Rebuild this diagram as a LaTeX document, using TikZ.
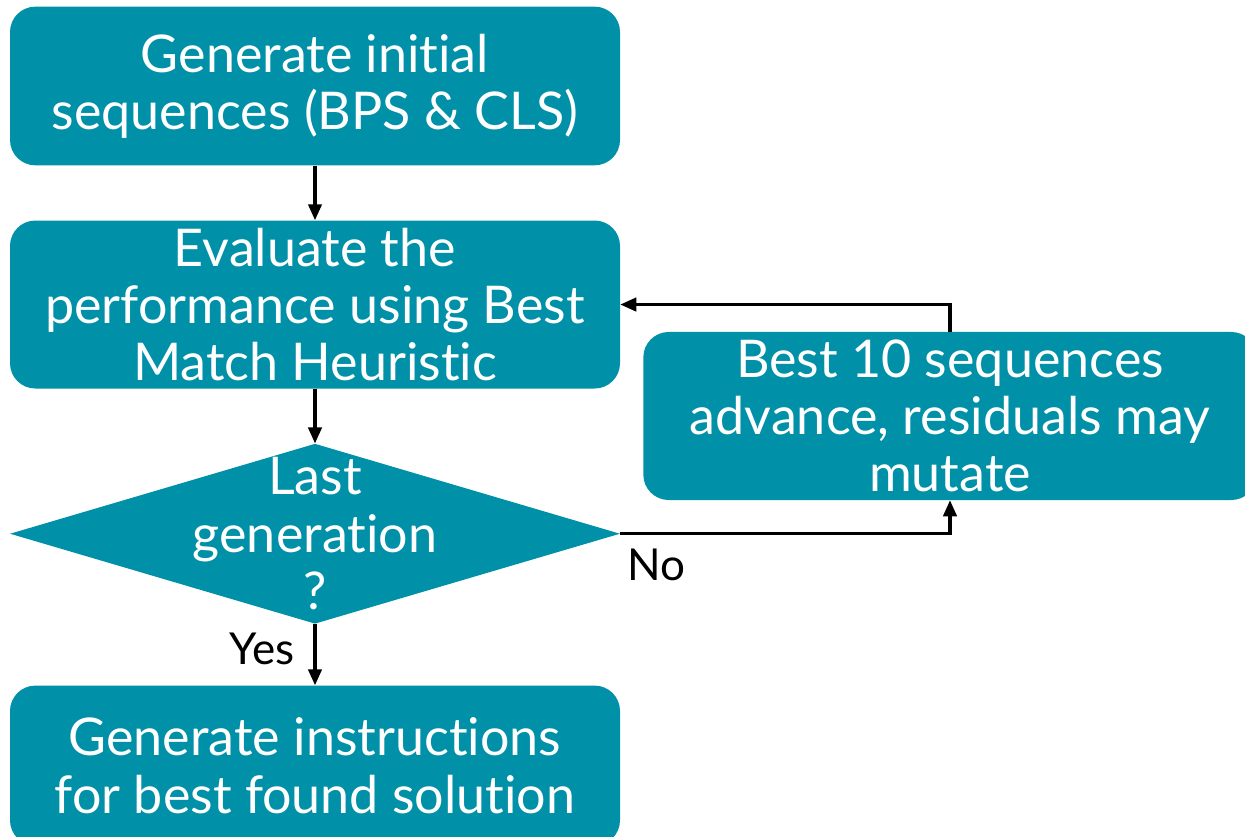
\documentclass[tikz,border=0pt]{standalone}
\usepackage{fontspec}
\setmainfont{Lato}[Ligatures=NoCommon]
\usetikzlibrary{positioning,shapes.geometric,arrows.meta}
\definecolor{gateal}{RGB}{0,145,168}
\begin{document}
\begin{tikzpicture}[x=0.75pt, y=-0.75pt, node distance=41pt,
    boxfont/.style={font=\fontsize{39}{43}\selectfont},
    procbox/.style={fill=gateal, rounded corners=19pt, minimum width=457.5pt,
      text=white, align=center, inner sep=0pt, boxfont},
    decision/.style={diamond, fill=gateal, minimum width=457.5pt,
      minimum height=135pt, inner sep=0pt},
    flow/.style={-{Triangle[length=12pt,width=10pt]}, line width=2.4pt},
    answer/.style={font=\fontsize{33}{37}\selectfont}]
  \path[use as bounding box, clip] (0,0) rectangle (1245,837);
  \node[procbox, minimum height=119pt] (init) at (315,86) {Generate initial\\sequences (BPS \& CLS)};
  \node[procbox, minimum height=126pt, below=of init] (eval) {Evaluate the\\performance using Best\\Match Heuristic};
  \node[decision, below=of eval,
    label={[boxfont, text=white, align=center]center:Last\\generation\\?}] (last) {};
  \node[procbox, minimum height=120pt, below=46pt of last] (instr) {Generate instructions\\for best found solution};
  \node[procbox, minimum height=126pt, minimum width=460pt] (select) at (950,416) {Best 10 sequences\\advance, residuals may\\mutate};
  \draw[flow] (init) -- (eval);
  \draw[flow] (eval) -- (last);
  \draw[flow] (last) -- node[answer, left, inner sep=14pt, yshift=4pt] (yes) {Yes} (instr);
  \draw[flow] (last.east) -| node[answer, pos=0, anchor=north west, inner sep=4pt, yshift=-6pt] (no) {No} (select.south);
  \draw[flow] (select.north) |- (eval.east);
\end{tikzpicture}
\end{document}
